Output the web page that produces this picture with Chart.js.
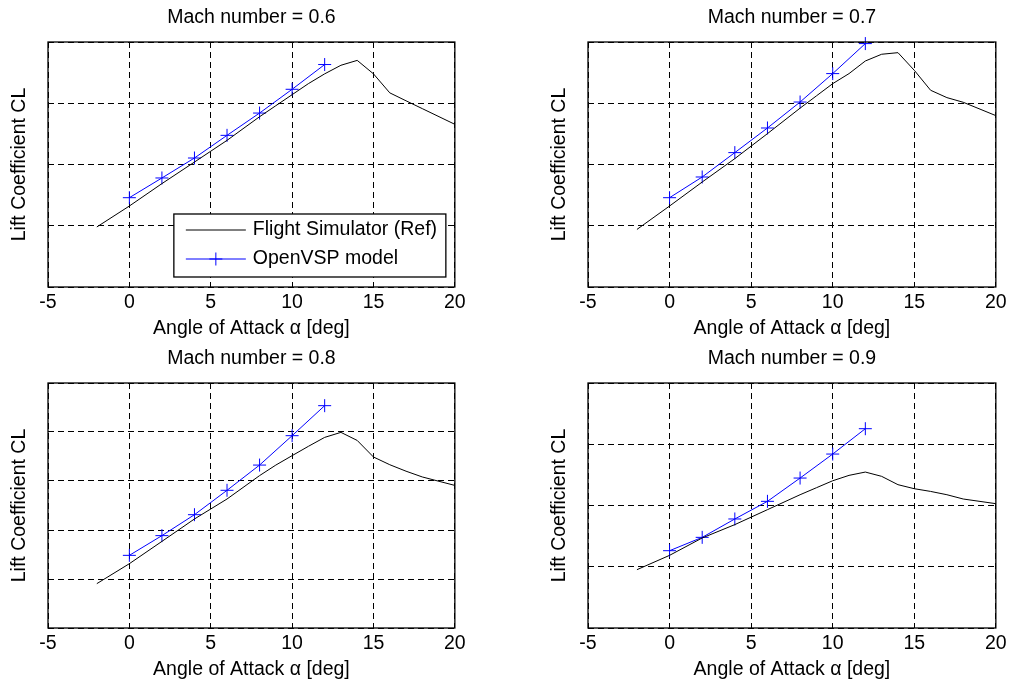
<!DOCTYPE html>
<html>
<head>
<meta charset="utf-8">
<title>Lift coefficient vs angle of attack</title>
<script src="https://cdn.jsdelivr.net/npm/chart.js@4.4.0/dist/chart.umd.min.js"></script>
<style>
    body { margin: 0; background: #fff; width: 1011px; height: 684px; position: relative; overflow: hidden; }
    canvas { position: absolute; }
</style>
</head>
<body>
<canvas id="chart-m06" width="470" height="342" style="left:0;top:0"></canvas>
<canvas id="chart-m07" width="471" height="342" style="left:540px;top:0"></canvas>
<canvas id="chart-m08" width="470" height="342" style="left:0;top:341px"></canvas>
<canvas id="chart-m09" width="471" height="342" style="left:540px;top:341px"></canvas>
<script>
// ─── Data ───

const machNumbers = [0.6, 0.7, 0.8, 0.9];
const xTicks = [-5, 0, 5, 10, 15, 20];

// Flight simulator reference curve (angle of attack, deg)
const refAlpha = [-2, 0, 2, 4, 6, 8, 9, 10, 11, 12, 13, 14, 15, 16, 17, 18, 20];
const refCL_M06 = [-0.01, 0.161, 0.344, 0.52, 0.697, 0.89, 0.98, 1.07, 1.16, 1.24, 1.31, 1.35, 1.24, 1.085, 1.02, 0.956, 0.828];
const refCL_M07 = [-0.03, 0.161, 0.357, 0.548, 0.752, 0.96, 1.06, 1.16, 1.242, 1.345, 1.40, 1.413, 1.269, 1.106, 1.046, 1.008, 0.899];
const refCL_M08 = [-0.038, 0.125, 0.307, 0.49, 0.653, 0.844, 0.93, 1.007, 1.083, 1.156, 1.197, 1.131, 0.996, 0.933, 0.88, 0.833, 0.764];
const refCL_M09 = [-0.024, 0.093, 0.235, 0.344, 0.466, 0.588, 0.645, 0.702, 0.746, 0.773, 0.738, 0.670, 0.637, 0.615, 0.588, 0.553, 0.515];

// OpenVSP model
const vspAlpha = [0, 2, 4, 6, 8, 10, 12];
const vspCL_M06 = [0.229, 0.39, 0.553, 0.738, 0.92, 1.114, 1.316];
const vspCL_M07 = [0.229, 0.398, 0.597, 0.798, 1.01, 1.242, 1.487];
const vspCL_M08 = [0.193, 0.354, 0.525, 0.724, 0.93, 1.17, 1.415];
const vspCL_M09 = [0.131, 0.240, 0.390, 0.534, 0.724, 0.92, 1.127];

// y-axis limits (no tick labels in the original, only grid lines)
const yMin = [-0.5, -0.5, -0.4, -0.5];
const yMax = [1.5, 1.5, 1.6, 1.5];
const yStep = [0.5, 0.5, 0.4, 0.5];

const FONT_SIZE = 19.5;
Chart.defaults.font.family = '"Liberation Sans", Arial, Helvetica, sans-serif';
Chart.defaults.font.size = FONT_SIZE;
Chart.defaults.color = '#000';

const toPoints = (xs, ys) => xs.map((x, i) => ({ x, y: ys[i] }));

// ─── Plugins: axes box and MATLAB-style legend ───

const frameBox = {
    id: 'frameBox',
    afterDraw(chart) {
        const { ctx, chartArea: a } = chart;
        ctx.save();
        ctx.strokeStyle = '#000';
        ctx.lineWidth = 1.3;
        ctx.strokeRect(a.left, a.top, a.right - a.left, a.bottom - a.top);
        ctx.restore();
    }
};

const boxLegend = {
    id: 'boxLegend',
    afterDraw(chart, args, opts) {
        if (!opts.show) return;
        const { ctx, chartArea: a } = chart;
        const w = 272, h = 63;
        const left = a.right - 9 - w;
        const top = a.bottom - 10 - h;
        ctx.save();
        ctx.fillStyle = '#fff';
        ctx.fillRect(left, top, w, h);
        ctx.strokeStyle = '#000';
        ctx.lineWidth = 1.3;
        ctx.strokeRect(left, top, w, h);
        ctx.font = `${FONT_SIZE}px ${Chart.defaults.font.family}`;
        ctx.textBaseline = 'middle';
        chart.data.datasets.forEach((ds, i) => {
            const y = top + 16 + i * 29;
            ctx.strokeStyle = ds.borderColor;
            ctx.lineWidth = ds.borderWidth;
            ctx.beginPath();
            ctx.moveTo(left + 12, y);
            ctx.lineTo(left + 72, y);
            ctx.stroke();
            if (ds.pointRadius > 0) {
                ctx.strokeStyle = ds.pointBorderColor;
                Chart.helpers.drawPoint(ctx, {
                    pointStyle: ds.pointStyle,
                    radius: ds.pointRadius,
                    borderWidth: ds.pointBorderWidth,
                    rotation: 0
                }, left + 42, y);
            }
            ctx.fillStyle = '#000';
            ctx.fillText(ds.label, left + 79, y);
        });
        ctx.restore();
    }
};

// ─── One subplot ───

function renderPanel(canvasId, idx, refCL, vspCL, showLegend, padRight) {
    const canvas = document.getElementById(canvasId);
    const gridStyle = { color: '#000', lineWidth: 1, drawTicks: false };

    new Chart(canvas, {
        type: 'line',
        data: {
            datasets: [{
                label: 'Flight Simulator (Ref)',
                data: toPoints(refAlpha, refCL),
                borderColor: '#000',
                borderWidth: 1,
                pointRadius: 0,
                tension: 0
            }, {
                label: 'OpenVSP model',
                data: toPoints(vspAlpha, vspCL),
                borderColor: '#0000ff',
                borderWidth: 1,
                pointStyle: 'cross',
                pointRadius: 6.5,
                pointBorderColor: '#0000ff',
                pointBackgroundColor: '#0000ff',
                pointBorderWidth: 1,
                tension: 0,
                clip: false
            }]
        },
        options: {
            responsive: false,
            animation: false,
            layout: { padding: { left: 0, right: padRight, top: 0, bottom: 0 } },
            plugins: {
                legend: { display: false },
                tooltip: { enabled: false },
                title: {
                    display: true,
                    fullSize: false,
                    text: `Mach number = ${machNumbers[idx]}`,
                    font: { size: FONT_SIZE, weight: 'normal' },
                    color: '#000',
                    padding: { top: 6.3, bottom: 12.3 }
                },
                boxLegend: { show: showLegend }
            },
            scales: {
                x: {
                    type: 'linear',
                    min: xTicks[0],
                    max: xTicks[xTicks.length - 1],
                    afterBuildTicks: scale => { scale.ticks = xTicks.map(v => ({ value: v })); },
                    afterFit: scale => { scale.height = 55; },
                    grid: gridStyle,
                    border: { display: false, dash: [6, 4] },
                    ticks: { padding: 4.3, color: '#000', maxRotation: 0 },
                    title: {
                        display: true,
                        text: 'Angle of Attack α [deg]',
                        color: '#000',
                        padding: { top: 0, bottom: 1.3 }
                    }
                },
                y: {
                    type: 'linear',
                    min: yMin[idx],
                    max: yMax[idx],
                    ticks: { display: false, stepSize: yStep[idx] },
                    afterFit: scale => { scale.width = 48; },
                    grid: gridStyle,
                    border: { display: false, dash: [6, 4] },
                    title: {
                        display: true,
                        text: 'Lift Coefficient CL',
                        color: '#000',
                        padding: { top: 8.3, bottom: 0 }
                    }
                }
            }
        },
        plugins: [frameBox, boxLegend]
    });
}

renderPanel('chart-m06', 0, refCL_M06, vspCL_M06, true, 12);
renderPanel('chart-m07', 1, refCL_M07, vspCL_M07, false, 13);
renderPanel('chart-m08', 2, refCL_M08, vspCL_M08, false, 12);
renderPanel('chart-m09', 3, refCL_M09, vspCL_M09, false, 13);
</script>
</body>
</html>
